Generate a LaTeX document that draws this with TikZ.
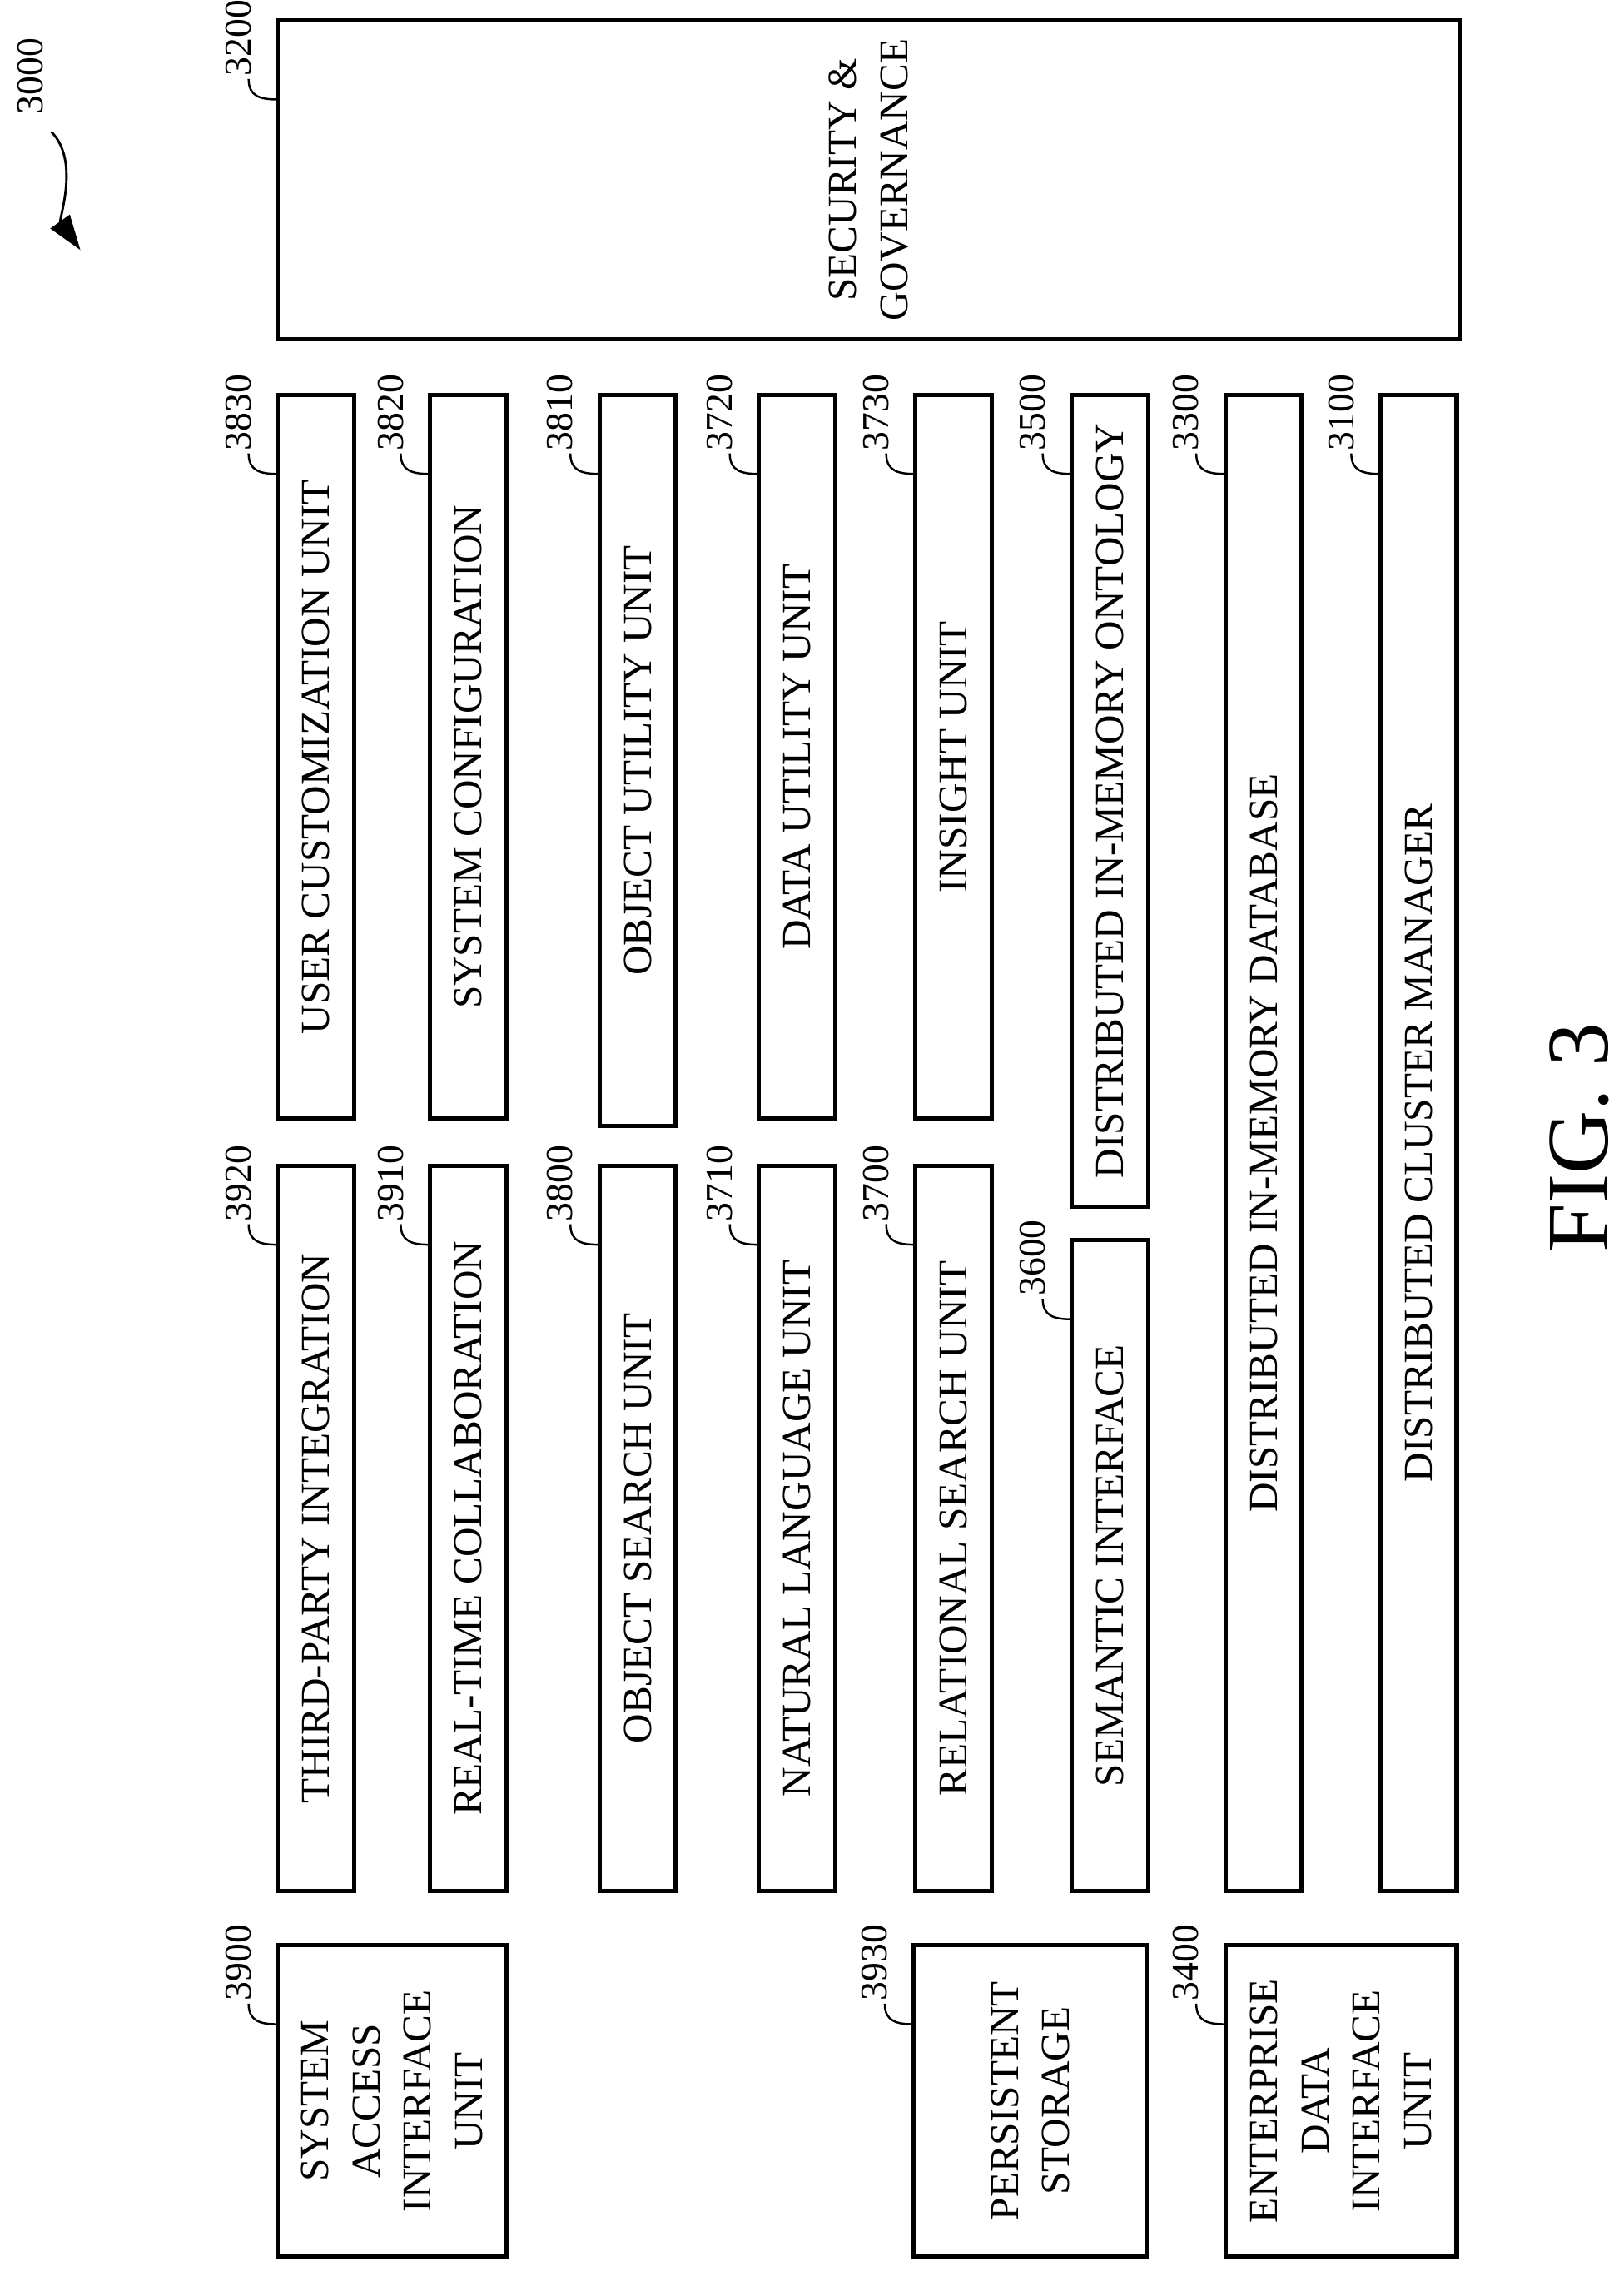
\documentclass[tikz,border=0pt]{standalone}
\usepackage{fontspec}
\setmainfont{Liberation Serif}
\usetikzlibrary{arrows.meta,calc}
\begin{document}
\begin{tikzpicture}[x=0.5pt,y=-0.5pt,
  boxx/.style={draw,line width=1.5pt},
  txt/.style={rotate=90,font=\fontsize{14}{17.5}\selectfont,align=center},
  lbl/.style={rotate=90,font=\fontsize{13}{16}\selectfont},
  lead/.style={line width=0.7pt}]
\useasboundingbox (0,0) rectangle (1110,1563);
% box macro: name, x1,y1,x2,y2, text, label
\newcommand{\ubox}[7]{%
  \draw[boxx] (#2,#3) rectangle (#4,#5);
  \node[txt] (#1) at ({(#2+#4)/2},{(#3+#5)/2}) {#6};
  \node[lbl] (#1l) at ({#2-27},{#3+12}) {#7};
  \coordinate (#1a) at ({#2-20},{#3+40});
  \coordinate (#1b) at (#2,{#3+54});
  \draw[lead] (#1a) .. controls ($(#1a)+(0,12)$) and ($(#1b)+(-12,0)$) .. (#1b);
}
\ubox{s3200}{190}{14}{998}{232}{SECURITY \&\\GOVERNANCE}{3200}
\ubox{s3830}{190}{270}{242}{765}{USER CUSTOMIZATION UNIT}{3830}
\ubox{s3820}{294}{270}{346}{765}{SYSTEM CONFIGURATION}{3820}
\ubox{s3810}{410}{270}{462}{770}{OBJECT UTILITY UNIT}{3810}
\ubox{s3720}{519}{270}{571}{765}{DATA UTILITY UNIT}{3720}
\ubox{s3730}{626}{270}{678}{765}{INSIGHT UNIT}{3730}
\ubox{s3500}{733}{270}{785}{825}{DISTRIBUTED IN-MEMORY ONTOLOGY}{3500}
\ubox{s3300}{838}{270}{890}{1293}{DISTRIBUTED IN-MEMORY DATABASE}{3300}
\ubox{s3100}{944}{270}{996}{1293}{DISTRIBUTED CLUSTER MANAGER}{3100}
\ubox{s3920}{190}{797}{242}{1293}{THIRD-PARTY INTEGRATION}{3920}
\ubox{s3910}{294}{797}{346}{1293}{REAL-TIME COLLABORATION}{3910}
\ubox{s3800}{410}{797}{462}{1293}{OBJECT SEARCH UNIT}{3800}
\ubox{s3710}{519}{797}{571}{1293}{NATURAL LANGUAGE UNIT}{3710}
\ubox{s3700}{626}{797}{678}{1293}{RELATIONAL SEARCH UNIT}{3700}
\ubox{s3600}{733}{848}{785}{1293}{SEMANTIC INTERFACE}{3600}
\ubox{s3900}{190}{1330}{346}{1543}{SYSTEM\\ACCESS\\INTERFACE\\UNIT}{3900}
\ubox{s3930}{625}{1330}{784}{1543}{PERSISTENT\\STORAGE}{3930}
\ubox{s3400}{838}{1330}{996}{1543}{ENTERPRISE\\DATA\\INTERFACE\\UNIT}{3400}
\node[lbl] (n3000) at (21,52) {3000};
\coordinate (a0) at (35,90);
\coordinate (a1) at (55,171);
\draw[line width=0.8pt,-{Triangle[length=12pt,width=8pt]}] (a0) .. controls (55,110) and (40,150) .. (a1);
\node[rotate=90,font=\fontsize{30}{36}\selectfont] (fig) at (1080,778) {FIG. 3};
\end{tikzpicture}
\end{document}
